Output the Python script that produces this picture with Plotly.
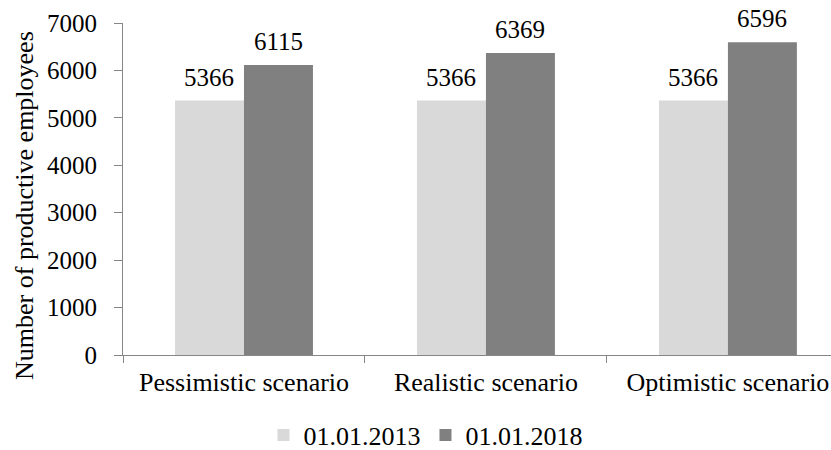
import plotly.graph_objects as go

# Workforce forecast by scenario
scenarios = ["Pessimistic scenario", "Realistic scenario", "Optimistic scenario"]
series_names = ["01.01.2013", "01.01.2018"]
values_2013 = [5366, 5366, 5366]
values_2018 = [6115, 6369, 6596]
y_ticks = [0, 1000, 2000, 3000, 4000, 5000, 6000, 7000]

FONT = "'Times New Roman', 'Liberation Serif', 'DejaVu Serif', serif"
LIGHT = "#d9d9d9"
DARK = "#808080"
AXIS = "#868686"

fig = go.Figure()
fig.add_trace(go.Bar(x=scenarios, y=values_2013, name=series_names[0],
                     marker=dict(color=LIGHT, line=dict(width=0))))
fig.add_trace(go.Bar(x=scenarios, y=values_2018, name=series_names[1],
                     marker=dict(color=DARK, line=dict(width=0))))

# value labels above each bar (offset by half a bar width within the group)
half_bar = 34.5
for vals, shift in ((values_2013, -half_bar), (values_2018, half_bar)):
    for cat, v in zip(scenarios, vals):
        fig.add_annotation(x=cat, y=v, text=str(v), showarrow=False,
                           xshift=shift, yanchor="bottom", yshift=8,
                           font=dict(family=FONT, size=25, color="black"))

# rotated y-axis title
fig.add_annotation(text="Number of productive employees", textangle=-90,
                   xref="paper", yref="paper", x=-0.1384, y=0.449,
                   xanchor="center", yanchor="middle", showarrow=False,
                   font=dict(family=FONT, size=26, color="black"))

fig.update_layout(
    width=831, height=450,
    margin=dict(l=123, r=0, t=23, b=95),
    paper_bgcolor="white", plot_bgcolor="white",
    barmode="group", bargap=0.43, bargroupgap=0,
    font=dict(family=FONT, size=25, color="black"),
    legend=dict(orientation="h", xref="container", yref="container",
                x=0.512, y=0.033, xanchor="center", yanchor="middle",
                font=dict(family=FONT, size=26, color="black"),
                itemwidth=30, tracegroupgap=0),
    showlegend=True,
)
fig.update_xaxes(range=[-0.5, 2.426], showline=True, linecolor=AXIS, linewidth=1,
                 ticks="outside", tickson="boundaries", ticklen=7, tickcolor=AXIS,
                 showgrid=False, ticklabelstandoff=4,
                 tickfont=dict(family=FONT, size=26, color="black"))
fig.update_yaxes(range=[0, 7000], tickvals=y_ticks, showline=True, linecolor=AXIS,
                 linewidth=1, ticks="outside", ticklen=8, tickcolor=AXIS,
                 showgrid=False, zeroline=False, ticklabelstandoff=12,
                 tickfont=dict(family=FONT, size=25, color="black"))

fig.write_html("out.html")
